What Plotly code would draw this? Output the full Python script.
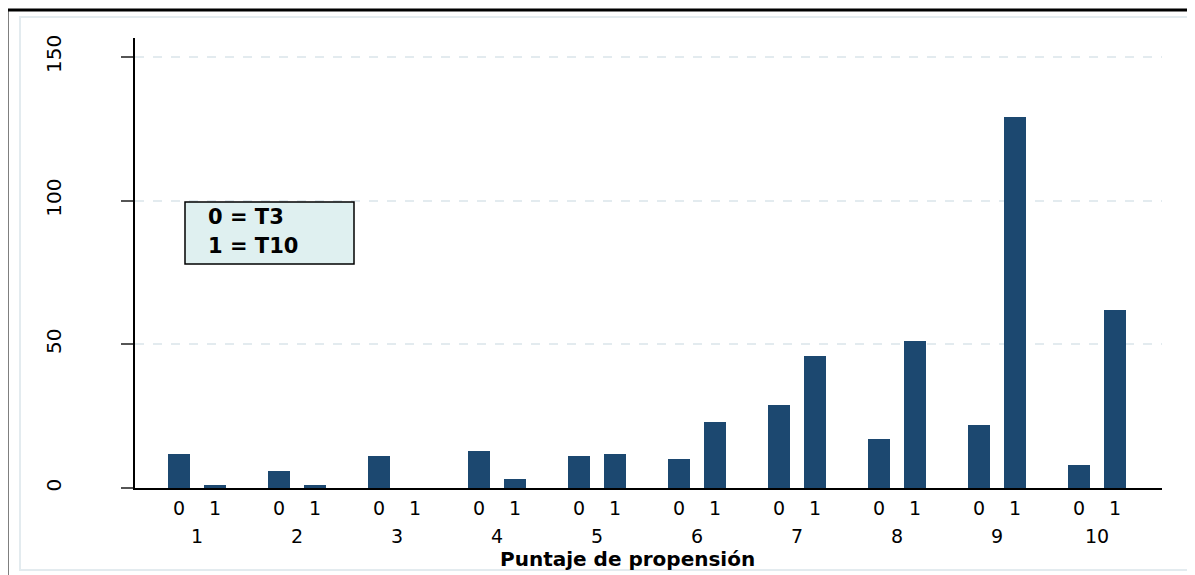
import plotly.graph_objects as go

# Puntaje de propensión groups, counts for T3 (0) and T10 (1)
grupos = [1, 2, 3, 4, 5, 6, 7, 8, 9, 10]
t3 = [12, 6, 11, 13, 11, 10, 29, 17, 22, 8]
t10 = [1, 1, 0, 3, 12, 23, 46, 51, 129, 62]
sub_labels = ["0", "1"]
y_ticks = [0, 50, 100, 150]

BAR = "#1c4870"
FONT = "DejaVu Sans, Arial, sans-serif"

# the page body adds an 8px margin, so the figure is drawn 8px smaller
PAD = 8
W, H = 1195 - PAD, 575 - PAD
# plot area in screen pixels
L, R, T, B = 135, 1162, 38, 488


def px_x(px):
    return (px - L) / (R - L)


def px_y(py):
    return (B - py) / (B - T)


off = 0.18
x0 = [g - off for g in grupos]
x1 = [g + off for g in grupos]

fig = go.Figure()
fig.add_trace(go.Bar(x=x0, y=t3, width=0.22, marker=dict(color=BAR, line=dict(width=0)), name="0 = T3"))
fig.add_trace(go.Bar(x=x1, y=t10, width=0.22, marker=dict(color=BAR, line=dict(width=0)), name="1 = T10"))

tickvals, ticktext = [], []
for a, b in zip(x0, x1):
    tickvals += [a, b]
    ticktext += sub_labels

fig.update_layout(
    width=W, height=H,
    margin=dict(l=L - PAD, r=1195 - R, t=T - PAD, b=575 - B),
    plot_bgcolor="white",
    paper_bgcolor="white",
    showlegend=False,
    bargap=0,
    font=dict(family=FONT, color="black"),
    xaxis=dict(
        range=[0.38, 10.65],
        tickvals=tickvals, ticktext=ticktext,
        tickfont=dict(size=19),
        showgrid=False, zeroline=False,
        showline=True, linecolor="black", linewidth=1.5,
        ticks="", ticklabelstandoff=2,
    ),
    yaxis=dict(
        range=[0, 156.6],
        tickvals=y_ticks,
        tickangle=-90,
        tickfont=dict(size=20),
        ticks="outside", ticklen=12, tickcolor="#555555", tickwidth=1.5,
        ticklabelstandoff=52,
        showline=True, linecolor="black", linewidth=1.5,
        showgrid=True, gridcolor="#e3ebef", gridwidth=2, griddash="dash",
        zeroline=False,
    ),
)

# group labels under the 0/1 ticks
for g in grupos:
    fig.add_annotation(x=g, y=px_y(536), xref="x", yref="paper", text=str(g),
                       showarrow=False, font=dict(size=19), yanchor="middle")

fig.add_annotation(x=px_x(627), y=px_y(559), xref="paper", yref="paper",
                   text="<b>Puntaje de propensión</b>", showarrow=False,
                   font=dict(size=20), yanchor="middle")

# legend-like key box
fig.add_shape(type="rect", xref="paper", yref="paper",
              x0=px_x(185), x1=px_x(354), y0=px_y(264), y1=px_y(202),
              fillcolor="#dff0f0", line=dict(color="black", width=1.5))
fig.add_annotation(x=px_x(206), y=px_y(217), xref="paper", yref="paper",
                   text="<b>0 = T3</b>", showarrow=False, xanchor="left",
                   font=dict(size=21), yanchor="middle")
fig.add_annotation(x=px_x(206), y=px_y(246), xref="paper", yref="paper",
                   text="<b>1 = T10</b>", showarrow=False, xanchor="left",
                   font=dict(size=21), yanchor="middle")

# outer frames
fig.add_shape(type="rect", xref="paper", yref="paper",
              x0=px_x(20), x1=px_x(1192), y0=px_y(570), y1=px_y(17),
              line=dict(color="#e3ebef", width=2), layer="below")
fig.add_shape(type="line", xref="paper", yref="paper",
              x0=px_x(7), x1=px_x(1196), y0=px_y(10), y1=px_y(10),
              line=dict(color="black", width=3))
fig.add_shape(type="line", xref="paper", yref="paper",
              x0=px_x(7), x1=px_x(7), y0=px_y(10), y1=px_y(576),
              line=dict(color="black", width=3))

fig.write_html("out.html")
